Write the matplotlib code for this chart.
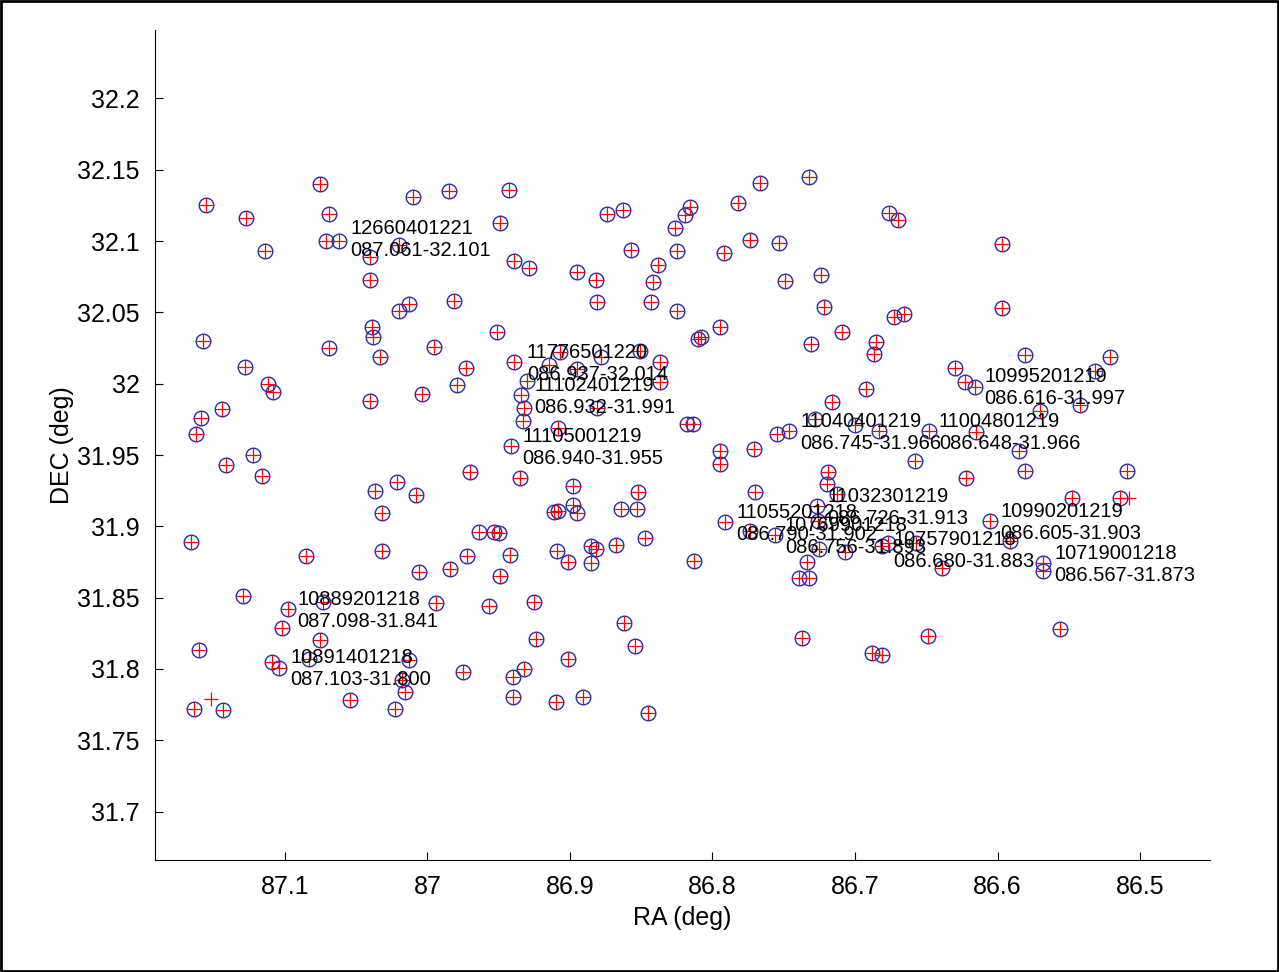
# -*- coding: utf-8 -*-

import numpy as np
from matplotlib import pyplot as plt
from matplotlib.patches import Rectangle
from matplotlib.ticker import FuncFormatter

# Matched sources (circle = catalogue, plus = detection)
ra = [
    87.155, 87.127, 87.114, 87.075, 87.069, 87.071, 87.062, 87.020, 87.040, 87.040,
    87.010, 86.985, 86.943, 86.949, 86.939, 86.929, 86.895, 86.882, 86.874, 86.863,
    86.857, 86.838, 86.826, 86.825, 86.819, 86.816, 86.842, 86.881, 86.843, 86.825,
    87.020, 87.013, 86.981, 87.039, 87.038, 87.033, 86.995, 86.951, 87.157, 87.069,
    87.128, 87.112, 87.108, 87.144, 87.159, 87.162, 87.040, 87.004, 86.979, 86.973,
    86.939, 86.915, 86.907, 86.895, 86.878, 86.851, 86.837, 86.837, 86.930, 86.934,
    86.932, 86.933, 86.881, 86.908, 86.941, 86.935, 86.898, 86.852, 86.818, 86.814,
    86.795, 86.795, 86.810, 86.808, 86.795, 86.970, 87.122, 87.141, 87.116, 87.037,
    87.021, 87.008,
    86.732, 86.767, 86.782, 86.792, 86.774, 86.753, 86.676, 86.670, 86.597, 86.597,
    86.749, 86.724, 86.722, 86.731, 86.709, 86.685, 86.687, 86.673, 86.666, 86.581,
    86.521, 86.630, 86.623, 86.616, 86.532, 86.542, 86.570, 86.692, 86.716, 86.728,
    86.700, 86.683, 86.648, 86.615, 86.585, 86.658, 86.581, 86.509, 86.622, 86.755,
    86.746, 86.771, 86.719, 86.720, 86.770, 86.713, 86.548, 86.514,
    87.166, 87.085, 87.032, 87.032, 87.006, 86.984, 86.972, 86.964, 86.953, 86.950,
    86.942, 86.949, 86.911, 86.908, 86.898, 86.895, 86.864, 86.853, 86.847, 86.909,
    86.901, 86.885, 86.882, 86.885, 86.868, 87.129, 87.098, 87.102, 87.073, 87.075,
    87.160, 87.109, 87.104, 87.083, 87.013, 86.994, 86.957, 86.925, 86.924, 86.862,
    86.854, 86.901, 86.975, 86.932, 86.940, 86.940, 86.910, 86.891, 86.845, 87.018,
    87.016, 87.054, 87.023, 87.164, 87.143,
    86.791, 86.774, 86.756, 86.727, 86.726, 86.725, 86.707, 86.681, 86.677, 86.657,
    86.734, 86.739, 86.732, 86.639, 86.605, 86.591, 86.568, 86.568, 86.813, 86.737,
    86.688, 86.681, 86.649, 86.556,
]
dec = [
    32.125, 32.116, 32.093, 32.140, 32.119, 32.100, 32.100, 32.097, 32.089, 32.073,
    32.131, 32.135, 32.136, 32.113, 32.086, 32.081, 32.078, 32.073, 32.119, 32.122,
    32.094, 32.083, 32.109, 32.093, 32.118, 32.124, 32.071, 32.057, 32.057, 32.051,
    32.051, 32.056, 32.058, 32.040, 32.033, 32.019, 32.026, 32.036, 32.030, 32.025,
    32.012, 32.000, 31.994, 31.982, 31.976, 31.965, 31.988, 31.993, 31.999, 32.011,
    32.015, 32.013, 32.022, 32.010, 32.019, 32.023, 32.015, 32.001, 32.002, 31.992,
    31.983, 31.974, 31.983, 31.969, 31.956, 31.934, 31.928, 31.924, 31.972, 31.972,
    31.953, 31.944, 32.031, 32.033, 32.040, 31.938, 31.950, 31.943, 31.935, 31.925,
    31.931, 31.922,
    32.145, 32.141, 32.127, 32.092, 32.101, 32.099, 32.120, 32.115, 32.098, 32.053,
    32.072, 32.076, 32.054, 32.028, 32.036, 32.029, 32.021, 32.047, 32.049, 32.020,
    32.019, 32.011, 32.001, 31.998, 32.009, 31.985, 31.981, 31.996, 31.987, 31.975,
    31.971, 31.967, 31.967, 31.966, 31.953, 31.946, 31.939, 31.939, 31.934, 31.965,
    31.967, 31.954, 31.938, 31.930, 31.924, 31.923, 31.920, 31.920,
    31.889, 31.879, 31.909, 31.883, 31.868, 31.870, 31.879, 31.896, 31.896, 31.895,
    31.880, 31.865, 31.910, 31.911, 31.915, 31.909, 31.912, 31.912, 31.892, 31.883,
    31.875, 31.886, 31.884, 31.874, 31.887, 31.851, 31.842, 31.829, 31.847, 31.820,
    31.813, 31.805, 31.801, 31.807, 31.806, 31.846, 31.844, 31.847, 31.821, 31.832,
    31.816, 31.807, 31.798, 31.800, 31.794, 31.780, 31.777, 31.780, 31.769, 31.792,
    31.784, 31.778, 31.772, 31.772, 31.771,
    31.903, 31.897, 31.894, 31.914, 31.904, 31.884, 31.882, 31.886, 31.888, 31.888,
    31.875, 31.864, 31.864, 31.871, 31.904, 31.890, 31.874, 31.869, 31.876, 31.822,
    31.811, 31.810, 31.823, 31.828,
]

# Detections without a catalogue match
ra_plus_only = [87.152, 86.508]
dec_plus_only = [31.779, 31.920]

# Labelled sources: id, RA, DEC
label_ids = ['12660401221', '11776501220', '11102401219', '11105001219',
             '10995201219', '11040401219', '11004801219', '11032301219',
             '11055201218', '10769901218', '10757901218', '10990201219',
             '10719001218', '10889201218', '10891401218']
label_ra = [87.061, 86.937, 86.932, 86.940, 86.616, 86.745, 86.648, 86.726,
            86.790, 86.756, 86.680, 86.605, 86.567, 87.098, 87.103]
label_dec = [32.101, 32.014, 31.991, 31.955, 31.997, 31.966, 31.966, 31.913,
             31.902, 31.893, 31.883, 31.903, 31.873, 31.841, 31.800]

x_ticks = [87.1, 87.0, 86.9, 86.8, 86.7, 86.6, 86.5]
y_ticks = [31.7, 31.75, 31.8, 31.85, 31.9, 31.95, 32.0, 32.05, 32.1, 32.15, 32.2]


def plot_field(save_to=None):
    plt.rcParams['font.family'] = ['Liberation Sans', 'DejaVu Sans']
    fig = plt.figure(figsize=(12.79, 9.72), dpi=100)
    ax = fig.add_axes([0.1212, 0.1152, 0.8249, 0.8539])

    ax.plot(ra, dec, 'o', mfc='none', mec='#2a2aa8', ms=10.5, mew=1.0)
    ax.plot(ra + ra_plus_only, dec + dec_plus_only, '+', color='red',
            ms=10, mew=0.9)

    for name, x, y in zip(label_ids, label_ra, label_dec):
        ax.annotate('%s\n%07.3f-%.3f' % (name, x, y), (x, y),
                    xytext=(7, 0), textcoords='offset points',
                    ha='left', va='center', fontsize=14.5, linespacing=1.2)

    ax.set_xlim(87.191, 86.451)
    ax.set_ylim(31.666, 32.248)
    ax.set_xticks(x_ticks)
    ax.set_yticks(y_ticks)
    fmt = FuncFormatter(lambda v, p: ('%g' % round(v, 3)))
    ax.xaxis.set_major_formatter(fmt)
    ax.yaxis.set_major_formatter(fmt)
    ax.tick_params(direction='in', length=6, width=0.8, labelsize=18, pad=11)
    ax.spines['top'].set_visible(False)
    ax.spines['right'].set_visible(False)
    ax.set_xlabel('RA (deg)', fontsize=18, labelpad=5)
    ax.set_ylabel('DEC (deg)', fontsize=18, labelpad=2)

    fig.patches.append(Rectangle((0.001, 0.001), 0.998, 0.998,
                                 transform=fig.transFigure, fill=False,
                                 ec='black', lw=2))

    if save_to is not None:
        fig.savefig(save_to, dpi=100)
        print('Saved figure to: %s' % save_to)


if __name__ == '__main__':
    plot_field(save_to='out.png')
